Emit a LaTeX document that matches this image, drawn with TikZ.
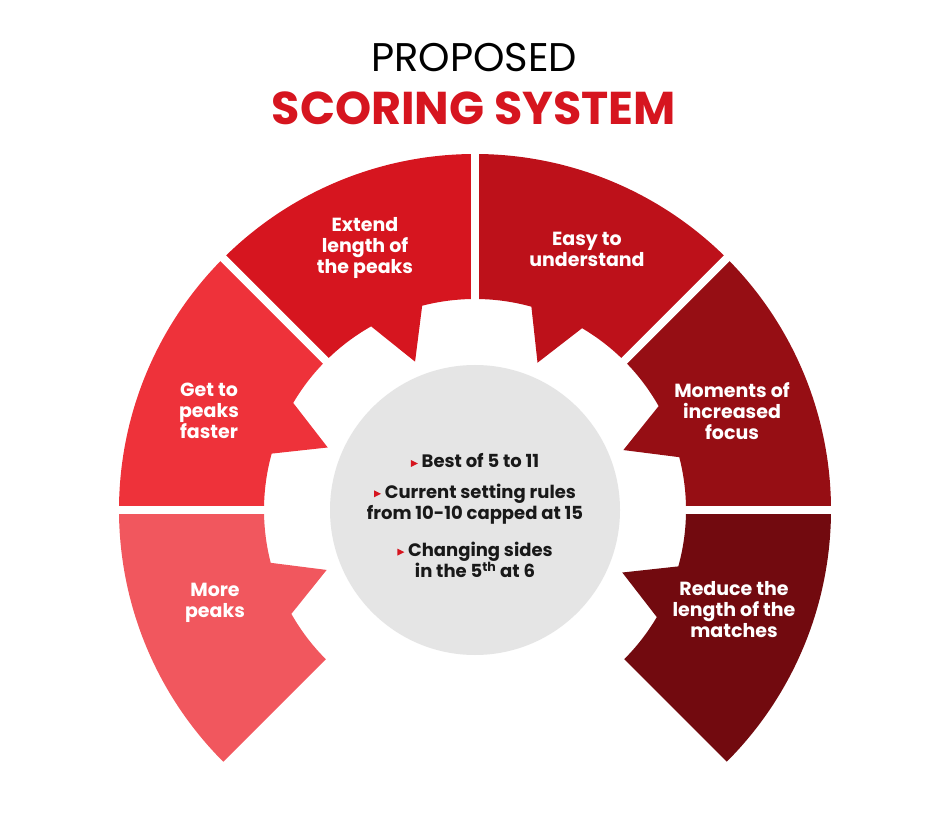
\documentclass[tikz,border=0pt]{standalone}
\usepackage{fontspec}
\setmainfont{Poppins}
\begin{document}
\begin{tikzpicture}[x=1pt,y=1pt,
  lbl/.style={text=white,font=\fontsize{19}{21}\selectfont\bfseries,align=center},
  ctr/.style={text=black!90,font=\fontsize{18}{21}\selectfont\bfseries,align=center}]
\useasboundingbox (0,0) rectangle (948,823);
\definecolor{cA}{HTML}{F1575E}
\definecolor{cB}{HTML}{EE323A}
\definecolor{cC}{HTML}{D6151F}
\definecolor{cD}{HTML}{BD111A}
\definecolor{cE}{HTML}{960E14}
\definecolor{cF}{HTML}{720A0F}
\definecolor{tred}{HTML}{D6151F}
\begin{scope}[shift={(475,313)}]
\foreach \t/\c in {180/cA,135/cB,90/cC,45/cD,0/cE,-45/cF}{
  \fill[\c] (\t:356) arc[start angle=\t,end angle=\t+45,radius=356]
    -- ({\t+45}:211) arc[start angle=\t+45,end angle=\t+29.5,radius=211]
    -- ({\t+22}:160) -- ({\t+14.5}:211)
    arc[start angle=\t+14.5,end angle=\t,radius=211] -- cycle;
}
\foreach \t in {0,45,90,135,180}{
  \draw[white,line width=8] (\t:150) -- (\t:370);
}
\fill[white] (0,0) circle[radius=147];
\fill[black!10] (0,0) circle[radius=145];
\end{scope}
\node (t1) at (474,765) {\fontsize{40}{44}\selectfont PROPOSED};
\node (t2) at (474,715) {\fontsize{46}{50}\selectfont\bfseries\color{tred}SCORING SYSTEM};
\node[lbl] (s1) at (365,575) {Extend\\length of\\the peaks};
\node[lbl] (s2) at (587,574) {Easy to\\understand};
\node[lbl] (s3) at (209,412) {Get to\\peaks\\faster};
\node[lbl] (s4) at (732,412) {Moments of\\increased\\focus};
\node[lbl] (s5) at (215,220) {More\\peaks};
\node[lbl] (s6) at (734,213) {Reduce the\\length of the\\matches};
\newcommand\rbul{\tikz[baseline=-4.5pt]\fill[tred] (0,0) -- (-7,3.5) -- (-7,-3.5) -- cycle;\ }
\node[ctr] (c1) at (475,362) {\rbul Best of 5 to 11};
\node[ctr] (c2) at (475,319) {\rbul Current setting rules\\from 10-10 capped at 15};
\node[ctr] (c3) at (475,263) {\rbul Changing sides\\in the 5\textsuperscript{th} at 6};
\end{tikzpicture}
\end{document}
